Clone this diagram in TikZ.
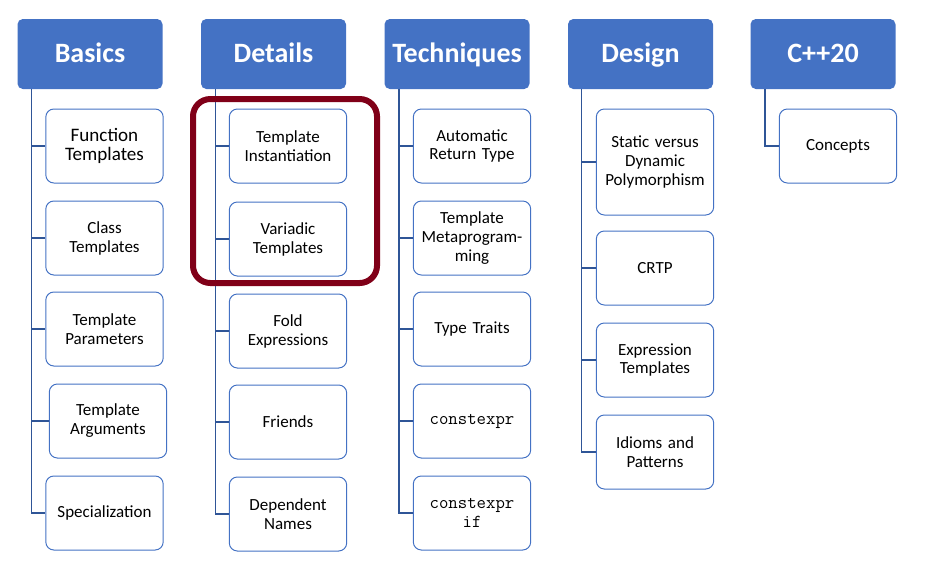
\documentclass[tikz,border=0pt]{standalone}
\usepackage{fontspec}
\setmainfont{Carlito}
\definecolor{hblue}{RGB}{68,114,196}
\definecolor{lblue}{RGB}{47,85,151}
\definecolor{hired}{RGB}{128,0,24}
\begin{document}
\begin{tikzpicture}[x=0.75pt,y=-0.75pt,
  hdr/.style={fill=hblue, draw=none, rounded corners=4pt, minimum width=108.75pt, minimum height=52.5pt, text=white, font=\bfseries\fontsize{21}{25}\selectfont, inner sep=0pt, text height=14pt, text depth=2pt},
  item/.style={draw=hblue, line width=0.75pt, rounded corners=6pt, fill=white, minimum width=88pt, minimum height=55.5pt, align=center, font=\fontsize{12.75}{14.2}\selectfont, text width=82pt, inner sep=1pt},
  conn/.style={draw=lblue, line width=1.1pt},
  mono/.style={font=\ttfamily\fontsize{13.7}{14}\selectfont}]
\useasboundingbox (0,0) rectangle (926,569);
% headers
\node[hdr] (bas) at (90,54) {Basics};
\node[hdr] (det) at (273.5,54) {Details};
\node[hdr] (tec) at (457,54) {Techniques};
\node[hdr] (des) at (640.5,54) {Design};
\node[hdr] (cpp) at (823,54) {C++20};
% Basics
\node[item, font=\fontsize{14.3}{14.3}\selectfont] (b1) at (104.5,146) {Function\\Templates};
\node[item] (b2) at (104.5,238) {Class\\Templates};
\node[item] (b3) at (104.5,329) {Template\\Parameters};
\node[item] (b4) at (108,421) {Template\\Arguments};
\node[item] (b5) at (104.5,513) {Specialization};
% Details
\node[item] (d1) at (288,146) {Template\\Instantiation};
\node[item] (d2) at (288,239) {Variadic\\Templates};
\node[item] (d3) at (288,331) {Fold\\Expressions};
\node[item] (d4) at (288,422) {Friends};
\node[item] (d5) at (288,514) {Dependent\\Names};
% Techniques
\node[item] (t1) at (472,146) {Automatic\\Return Type};
\node[item] (t2) at (472,238) {Template\\Metaprogram-\\ming};
\node[item] (t3) at (472,329) {Type Traits};
\node[item, mono] (t4) at (472,421) {constexpr};
\node[item, mono] (t5) at (472,513) {constexpr\\if};
% Design
\node[item, minimum height=79.5pt] (g1) at (655,162) {Static versus\\Dynamic\\Polymorphism};
\node[item] (g2) at (655,268) {CRTP};
\node[item] (g3) at (655,360) {Expression\\Templates};
\node[item] (g4) at (655,452) {Idioms and\\Patterns};
% C++20
\node[item] (c1) at (838,146) {Concepts};
% connectors
\foreach \c in {b1,b2,b3,b4,b5} \draw[conn] ([xshift=10.5pt]bas.south west) |- (\c.west);
\foreach \c in {d1,d2,d3,d4,d5} \draw[conn] ([xshift=11pt]det.south west) |- (\c.west);
\foreach \c in {t1,t2,t3,t4,t5} \draw[conn] ([xshift=11pt]tec.south west) |- (\c.west);
\foreach \c in {g1,g2,g3,g4} \draw[conn] ([xshift=10.5pt]des.south west) |- (\c.west);
\draw[conn] ([xshift=11pt]cpp.south west) |- (c1.west);
% highlight
\draw[hired, line width=4.5pt, rounded corners=13pt] (193,99) rectangle (377,283);
\end{tikzpicture}
\end{document}
